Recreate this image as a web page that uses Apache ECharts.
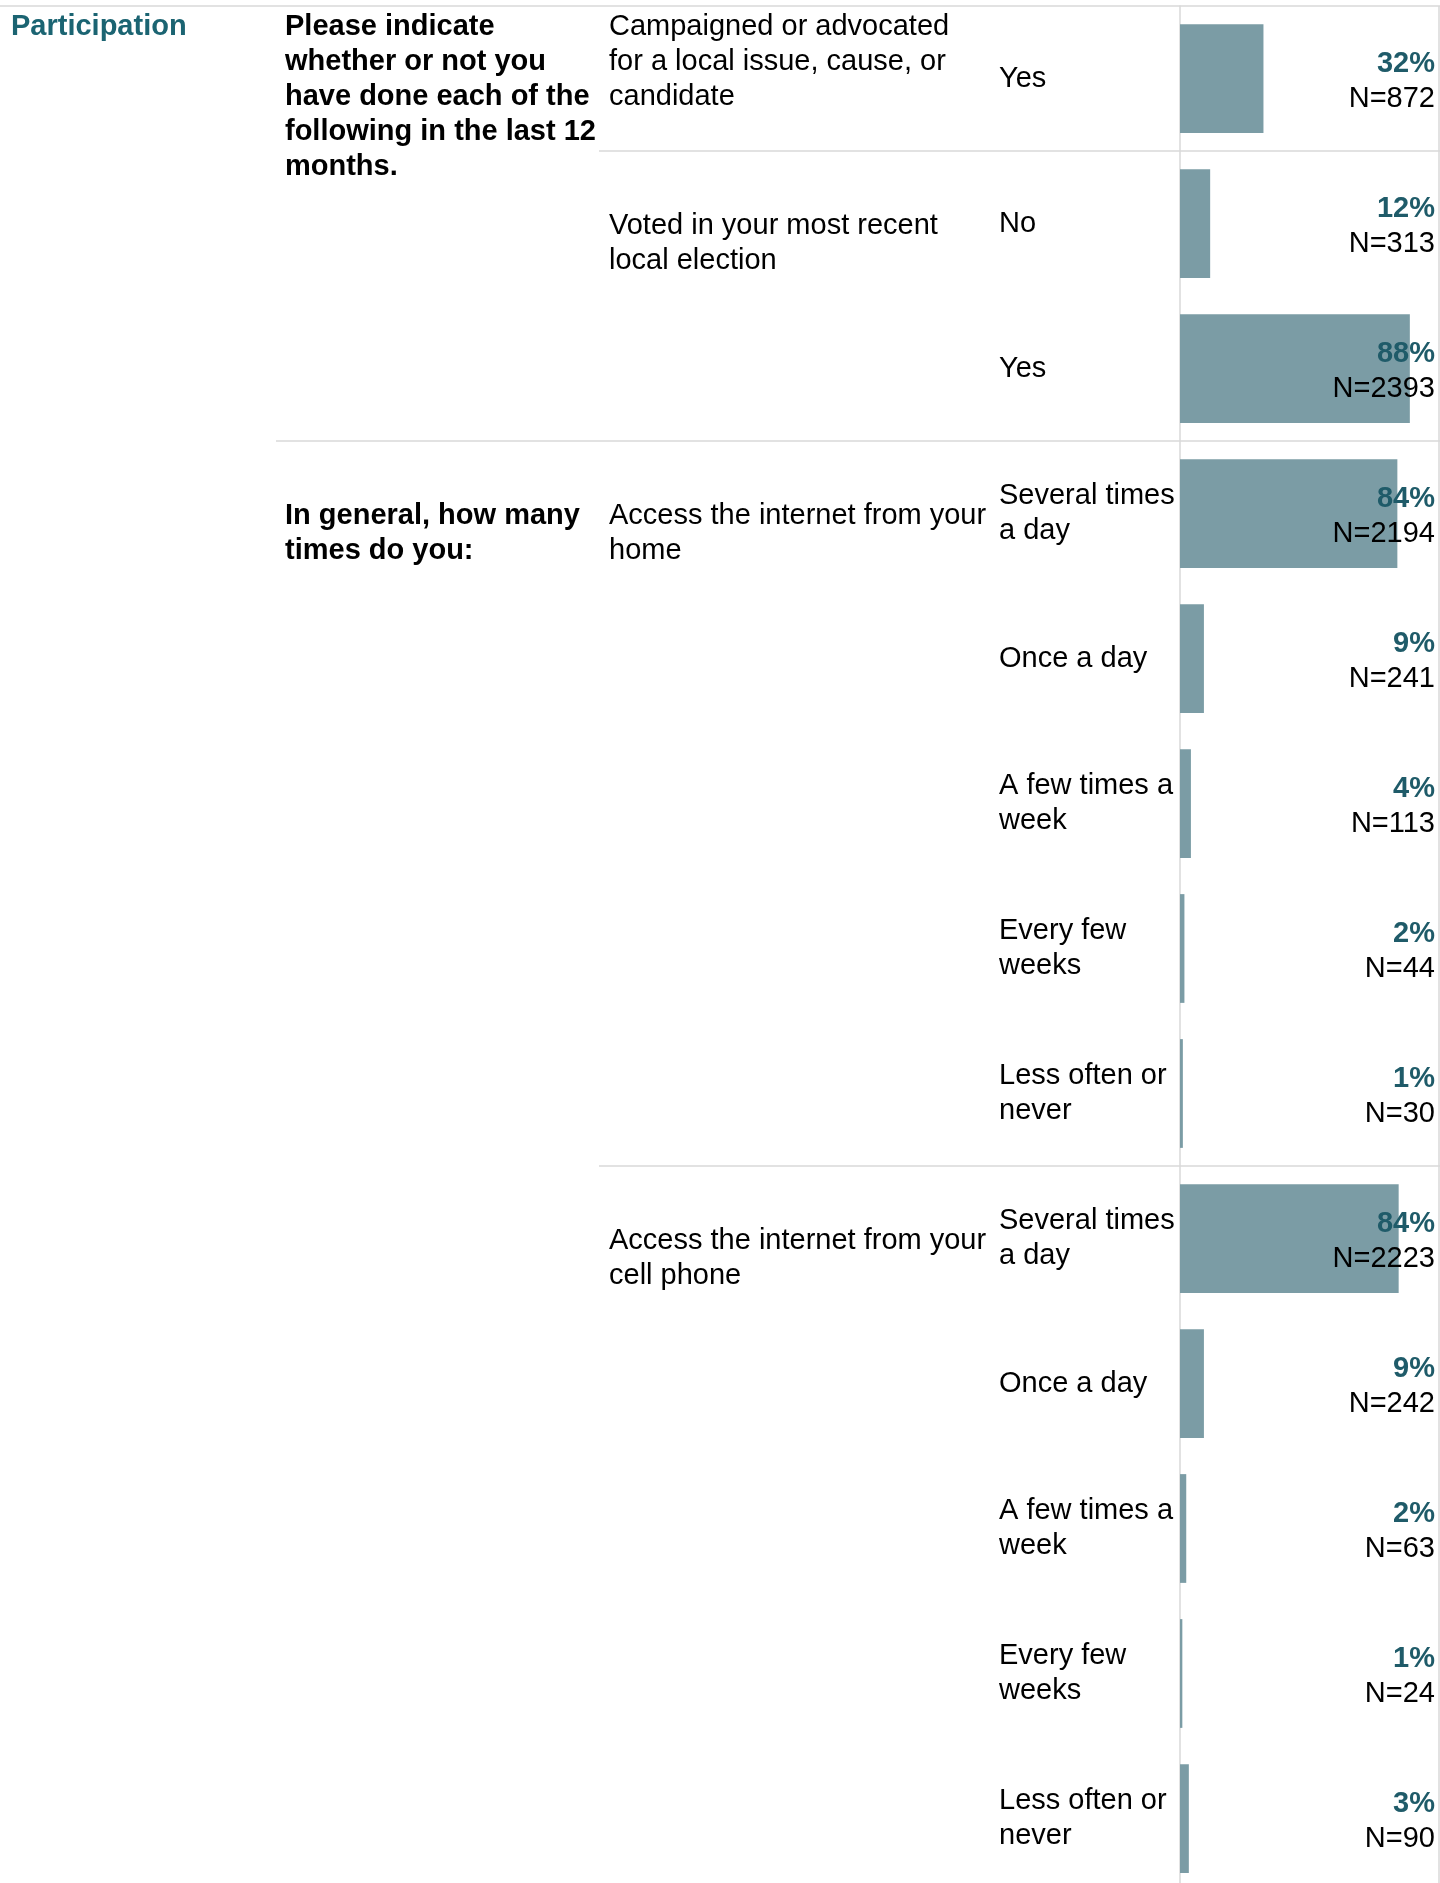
<!DOCTYPE html>
<html>
<head>
<meta charset="utf-8">
<script src="https://cdn.jsdelivr.net/npm/echarts@6/dist/echarts.min.js"></script>
<style>
html,body{margin:0;padding:0;background:#fff;}
#chart{width:1440px;height:1883px;}
</style>
</head>
<body>
<div id="chart"></div>
<script>
// ---------------- DATA ----------------
const sectionLabel = 'Participation';
const questionLabels = [
  'Please indicate\nwhether or not you\nhave done each of the\nfollowing in the last 12\nmonths.',
  'In general, how many\ntimes do you:'
];
const questionStartRows = [0, 3];
const subQuestionLabels = [
  'Campaigned or advocated\nfor a local issue, cause, or\ncandidate',
  'Voted in your most recent\nlocal election',
  'Access the internet from your\nhome',
  'Access the internet from your\ncell phone'
];
const subQuestionStartRows = [0, 1, 3, 8];
const responses = [
  'Yes',
  'No', 'Yes',
  'Several times\na day', 'Once a day', 'A few times a\nweek', 'Every few\nweeks', 'Less often or\nnever',
  'Several times\na day', 'Once a day', 'A few times a\nweek', 'Every few\nweeks', 'Less often or\nnever'
];
const pctValues = [32.1, 11.6, 88.4, 83.6, 9.2, 4.2, 1.7, 1.1, 84.1, 9.2, 2.4, 0.9, 3.4];
const pctLabels = ['32%', '12%', '88%', '84%', '9%', '4%', '2%', '1%', '84%', '9%', '2%', '1%', '3%'];
const nValues = [872, 313, 2393, 2194, 241, 113, 44, 30, 2223, 242, 63, 24, 90];
const xMax = 100;

// ---------------- STYLE / LAYOUT ----------------
const FONT = '"Liberation Sans", Arial, Helvetica, sans-serif';
const FS = 29, LH = 35;
const DY = 2.5; // small baseline nudge
const teal = '#1b6472';
const pctColor = '#1f5b69';
const barColor = '#7b9ca5';
const rule = '#d9d9d9';
const colX = { section: 11, question: 285, sub: 609 };
const sepStart = { question: 276, sub: 599 };

const chart = echarts.init(document.getElementById('chart'), null, {renderer: 'canvas'});

function blockTop(api, row, text) {
  const c = api.coord([0, row])[1];
  const band = api.size([0, 1])[1];
  const lines = text.split('\n').length;
  return (lines >= 3 ? c - band / 2 + 0.5 : c - LH / 2) + DY;
}

const boundaries = [];
subQuestionStartRows.forEach(function (r) {
  if (r === 0) return;
  boundaries.push([r, questionStartRows.indexOf(r) >= 0 ? 'question' : 'sub']);
});

const option = {
  animation: false,
  backgroundColor: '#fff',
  grid: { left: 1180, top: 6, width: 260, height: 145 * responses.length, outerBoundsMode: 'none', containLabel: false },
  xAxis: {
    type: 'value', min: 0, max: xMax, show: false
  },
  yAxis: {
    type: 'category', inverse: true, data: responses,
    axisTick: { show: false },
    axisLine: { show: true, lineStyle: { color: rule, width: 1.5 } },
    splitLine: { show: false },
    axisLabel: {
      align: 'left', margin: 181, color: '#000',
      fontFamily: FONT, fontSize: FS, lineHeight: LH, verticalAlign: 'middle',
      padding: [DY * 2, 0, 0, 0]
    }
  },
  series: [
    {
      type: 'bar', data: pctValues, barWidth: '75%',
      itemStyle: { color: barColor }, z: 2, silent: true
    },
    {
      type: 'custom', z: 5, silent: true,
      data: pctValues.map(function (v, i) { return [v, i]; }),
      renderItem: function (params, api) {
        const i = params.dataIndex;
        const p = api.coord([xMax, i]);
        return {
          type: 'text', x: p[0] - 5, y: p[1] + DY + 0.5,
          style: {
            text: '{p|' + pctLabels[i] + '}\n{n|N=' + nValues[i] + '}',
            align: 'right', verticalAlign: 'middle',
            rich: {
              p: { fontFamily: FONT, fontSize: FS, fontWeight: 'bold', fill: pctColor, lineHeight: LH, align: 'right' },
              n: { fontFamily: FONT, fontSize: FS, fill: '#000', lineHeight: LH, align: 'right' }
            }
          }
        };
      }
    },
    {
      type: 'custom', z: 5, silent: true,
      data: subQuestionStartRows.map(function (r) { return [0, r]; }),
      renderItem: function (params, api) {
        const i = params.dataIndex;
        const t = subQuestionLabels[i];
        return {
          type: 'text', x: colX.sub, y: blockTop(api, subQuestionStartRows[i], t),
          style: { text: t, fontFamily: FONT, fontSize: FS, lineHeight: LH, fill: '#000', verticalAlign: 'top', align: 'left' }
        };
      }
    },
    {
      type: 'custom', z: 5, silent: true,
      data: questionStartRows.map(function (r) { return [0, r]; }),
      renderItem: function (params, api) {
        const i = params.dataIndex;
        const t = questionLabels[i];
        return {
          type: 'text', x: colX.question, y: blockTop(api, questionStartRows[i], t),
          style: { text: t, fontFamily: FONT, fontSize: FS, fontWeight: 'bold', lineHeight: LH, fill: '#000', verticalAlign: 'top', align: 'left' }
        };
      }
    },
    {
      type: 'custom', z: 5, silent: true,
      data: [[0, 0]],
      renderItem: function (params, api) {
        const c = api.coord([0, 0]);
        const band = api.size([0, 1])[1];
        const top = c[1] - band / 2;
        const right = api.coord([xMax, 0])[0];
        const bottom = api.coord([0, responses.length - 1])[1] + band / 2;
        return {
          type: 'group',
          children: [
            { type: 'line', shape: { x1: 0, y1: top, x2: right, y2: top }, style: { stroke: rule, lineWidth: 1.5 } },
            { type: 'line', shape: { x1: right - 1, y1: top, x2: right - 1, y2: bottom }, style: { stroke: rule, lineWidth: 1.5 } },
            { type: 'text', x: colX.section, y: top + 0.5 + DY,
              style: { text: sectionLabel, fontFamily: FONT, fontSize: FS, fontWeight: 'bold', lineHeight: LH, fill: teal, verticalAlign: 'top', align: 'left' } }
          ]
        };
      }
    },
    {
      type: 'custom', z: 4, silent: true,
      data: boundaries.map(function (b) { return [0, b[0]]; }),
      renderItem: function (params, api) {
        const b = boundaries[params.dataIndex];
        const band = api.size([0, 1])[1];
        const y = api.coord([0, b[0]])[1] - band / 2;
        const right = api.coord([xMax, 0])[0];
        return {
          type: 'line',
          shape: { x1: sepStart[b[1]], y1: y, x2: right, y2: y },
          style: { stroke: rule, lineWidth: 1.5 }
        };
      }
    }
  ]
};
chart.setOption(option);
</script>
</body>
</html>
